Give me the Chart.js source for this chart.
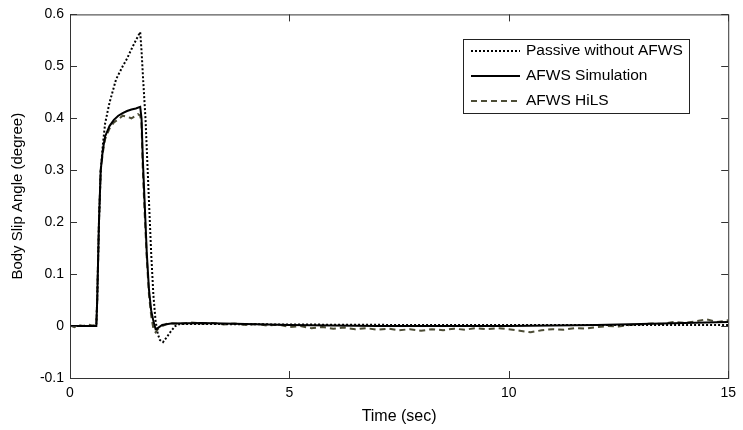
<!DOCTYPE html>
<html>
<head>
<meta charset="utf-8">
<script src="https://cdn.jsdelivr.net/npm/chart.js@4"></script>
<style>
  html, body { margin: 0; padding: 0; background: #fff; }
  #wrap { width: 743px; height: 430px; }
</style>
</head>
<body>
<div id="wrap"><canvas id="chart" width="743" height="430"></canvas></div>
<script>
// Passive without AFWS
const passiveTime = [0, 0.6, 0.62, 0.66, 0.7, 0.75, 0.8, 0.9, 1.05, 1.2, 1.3, 1.4, 1.5, 1.6, 1.63, 1.67, 1.72, 1.75, 1.8, 1.85, 1.9, 1.95, 2.0, 2.05, 2.12, 2.2, 2.3, 2.4, 2.5, 3, 5, 8, 10, 12, 14, 15];
const passiveVals = [0, 0, 0.05, 0.2, 0.3, 0.35, 0.39, 0.43, 0.475, 0.5, 0.515, 0.533, 0.55, 0.566, 0.53, 0.47, 0.4, 0.34, 0.24, 0.14, 0.06, 0.01, -0.015, -0.027, -0.031, -0.022, -0.01, 0, 0.004, 0.004, 0.003, 0.002, 0.002, 0.002, 0.002, 0.002];

// AFWS Simulation
const simTime = [0, 0.6, 0.62, 0.66, 0.7, 0.75, 0.8, 0.9, 1.0, 1.1, 1.2, 1.3, 1.4, 1.5, 1.6, 1.63, 1.66, 1.7, 1.75, 1.8, 1.85, 1.9, 1.95, 2.0, 2.1, 2.3, 3, 4, 5, 6, 7, 8, 9, 10, 11, 12, 13, 14, 15];
const simVals = [0, 0, 0.05, 0.2, 0.3, 0.34, 0.365, 0.385, 0.397, 0.405, 0.41, 0.414, 0.417, 0.419, 0.422, 0.4, 0.32, 0.24, 0.14, 0.07, 0.03, 0.01, -0.006, -0.004, 0.002, 0.005, 0.006, 0.004, 0.002, 0.001, 0, 0, 0, 0, 0.001, 0.002, 0.004, 0.006, 0.008];

// AFWS HiLS
const hilsTime = [0, 0.1, 0.2, 0.3, 0.4, 0.5, 0.58, 0.6, 0.62, 0.66, 0.7, 0.75, 0.8, 0.9, 1.0, 1.1, 1.2, 1.3, 1.4, 1.5, 1.55, 1.6, 1.63, 1.66, 1.7, 1.75, 1.8, 1.85, 1.9, 1.95, 2.0, 2.1, 2.2,
  2.25, 2.5, 2.75, 3.0, 3.25, 3.5, 3.75, 4.0, 4.25, 4.5, 4.75, 5.0, 5.25, 5.5, 5.75, 6.0, 6.25, 6.5, 6.75, 7.0, 7.25, 7.5, 7.75, 8.0, 8.25, 8.5, 8.75, 9.0, 9.25, 9.5, 9.75, 10.0, 10.25, 10.5, 10.75, 11.0, 11.25, 11.5, 11.75, 12.0, 12.25, 12.5, 12.75, 13.0, 13.25, 13.5, 13.75, 14.0, 14.25, 14.5, 14.75, 15.0];
const hilsVals = [0.001, -0.002, 0.002, 0, 0.003, 0.001, 0.002, 0.003, 0.05, 0.2, 0.3, 0.335, 0.36, 0.38, 0.392, 0.398, 0.405, 0.403, 0.4, 0.405, 0.408, 0.405, 0.39, 0.3, 0.22, 0.13, 0.06, 0.02, -0.005, -0.012, -0.006, 0, 0.004,
  0.006, 0.004, 0.007, 0.005, 0.006, 0.003, 0.005, 0.002, 0.004, 0.001, 0.003, -0.002, 0, -0.004, -0.002, -0.005, -0.003, -0.006, -0.004, -0.007, -0.005, -0.008, -0.006, -0.009, -0.006, -0.008, -0.005, -0.007, -0.004, -0.006, -0.004, -0.006, -0.009, -0.012, -0.008, -0.006, -0.007, -0.004, -0.005, -0.002, 0, -0.001, 0.002, 0.003, 0.005, 0.004, 0.008, 0.006, 0.009, 0.013, 0.008, 0.011];

const xTicks = [0, 5, 10, 15];
const yTicks = [-0.1, 0, 0.1, 0.2, 0.3, 0.4, 0.5, 0.6];

function pairs(t, v) {
  return t.map((x, i) => ({ x: x, y: v[i] }));
}

const FONT = "'Liberation Sans', Arial, sans-serif";

// box round the plot, with MATLAB-style inward ticks on all four sides
const boxPlugin = {
  id: 'box',
  afterDraw(chart) {
    const c = chart.ctx;
    const a = chart.chartArea;
    const xs = chart.scales.x, ys = chart.scales.y;
    c.save();
    c.strokeStyle = '#333';
    c.lineWidth = 1;
    c.strokeRect(a.left + 0.5, a.top + 0.5, a.right - a.left, a.bottom - a.top);
    c.beginPath();
    xTicks.forEach(v => {
      const px = Math.round(xs.getPixelForValue(v)) + 0.5;
      c.moveTo(px, a.bottom); c.lineTo(px, a.bottom - 7);
      c.moveTo(px, a.top); c.lineTo(px, a.top + 7);
    });
    yTicks.forEach(v => {
      const py = Math.round(ys.getPixelForValue(v)) + 0.5;
      c.moveTo(a.left, py); c.lineTo(a.left + 7, py);
      c.moveTo(a.right, py); c.lineTo(a.right - 7, py);
    });
    c.stroke();

    // legend box
    const lx = 463, ly = 39, lw = 226, lh = 74;
    c.fillStyle = '#fff';
    c.fillRect(lx, ly, lw, lh);
    c.strokeStyle = '#222';
    c.strokeRect(lx + 0.5, ly + 0.5, lw, lh);
    c.font = '15.5px ' + FONT;
    c.textBaseline = 'middle';
    c.fillStyle = '#000';
    chart.data.datasets.forEach((ds, i) => {
      const y = ly + 12 + i * 25;
      c.beginPath();
      c.strokeStyle = ds.borderColor;
      c.lineWidth = ds.borderWidth;
      c.setLineDash(ds.borderDash || []);
      c.moveTo(lx + 8, y);
      c.lineTo(lx + 57, y);
      c.stroke();
      c.setLineDash([]);
      c.fillText(ds.label, lx + 63, y);
    });
    c.restore();
  }
};

const ctx = document.getElementById('chart').getContext('2d');
const chart = new Chart(ctx, {
  type: 'line',
  data: {
    datasets: [
      {
        label: 'Passive without AFWS',
        data: pairs(passiveTime, passiveVals),
        borderColor: '#000',
        borderWidth: 2,
        borderDash: [2, 2]
      },
      {
        label: 'AFWS Simulation',
        data: pairs(simTime, simVals),
        borderColor: '#000',
        borderWidth: 2
      },
      {
        label: 'AFWS HiLS',
        data: pairs(hilsTime, hilsVals),
        borderColor: '#4d4d36',
        borderWidth: 2,
        borderDash: [6, 4]
      }
    ]
  },
  options: {
    responsive: false,
    animation: false,
    elements: { point: { radius: 0 }, line: { tension: 0 } },
    layout: { padding: { top: 12, right: 12, left: 0, bottom: 0 } },
    plugins: { legend: { display: false }, tooltip: { enabled: false } },
    scales: {
      x: {
        type: 'linear',
        min: 0, max: 15,
        afterBuildTicks: s => { s.ticks = xTicks.map(v => ({ value: v })); },
        afterFit: s => { s.height = 52; },
        grid: { display: false, drawTicks: false },
        border: { display: false },
        ticks: { padding: 7, color: '#000', font: { family: FONT, size: 14 }, maxRotation: 0 },
        title: { display: true, text: 'Time (sec)', color: '#000', font: { family: FONT, size: 16 }, padding: { top: 0 } }
      },
      y: {
        type: 'linear',
        min: -0.1, max: 0.6,
        afterBuildTicks: s => { s.ticks = yTicks.map(v => ({ value: v })); },
        afterFit: s => { s.width = 70; },
        grid: { display: false, drawTicks: false },
        border: { display: false },
        ticks: {
          padding: 6, color: '#000', font: { family: FONT, size: 14 },
          callback: v => Math.abs(v) < 1e-9 ? '0' : v.toFixed(1)
        },
        title: { display: true, text: 'Body Slip Angle (degree)', color: '#000', font: { family: FONT, size: 15 }, padding: { top: 9, bottom: 2 } }
      }
    }
  },
  plugins: [boxPlugin]
});
</script>
</body>
</html>
